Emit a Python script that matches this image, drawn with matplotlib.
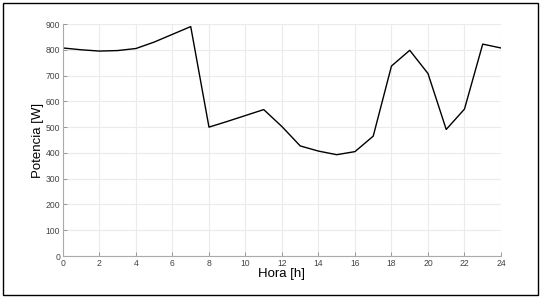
import numpy as np
import matplotlib.pyplot as plt
from matplotlib.patches import Rectangle

plt.rcParams['font.family'] = ['Liberation Sans', 'DejaVu Sans']

hora = list(range(25))
potencia = [807, 800, 795, 797, 805, 830, 860, 890, 500, 522, 545, 568,
            502, 427, 407, 393, 405, 465, 737, 798, 708, 491, 570, 822, 807]
xticks = list(range(0, 25, 2))
yticks = list(range(0, 901, 100))

fig = plt.figure(figsize=(5.42, 2.99), dpi=100)
ax = fig.add_axes([0.1162, 0.1438, 0.8081, 0.7759])

ax.plot(hora, potencia, color="black", linewidth=1.0)

ax.set_xlim(0, 24)
ax.set_ylim(0, 900)
ax.set_xticks(xticks)
ax.set_yticks(yticks)
ax.grid(True, color="#ebebeb", linewidth=0.8)
ax.set_axisbelow(True)

for s in ["top", "right"]:
    ax.spines[s].set_visible(False)
for s in ["left", "bottom"]:
    ax.spines[s].set_color("#aaaaaa")
    ax.spines[s].set_linewidth(0.8)

ax.tick_params(direction="in", length=3, width=0.6, color="#888888",
               labelsize=6.2, labelcolor="#444444", pad=2)

ax.set_xlabel("Hora [h]", fontsize=9.5, va="center")
ax.set_ylabel("Potencia [W]", fontsize=9.5, va="center")
ax.xaxis.set_label_coords(0.5, -0.077)
ax.yaxis.set_label_coords(-0.056, 0.5)

# marco exterior
fig.patches.append(Rectangle((0.0055, 0.0134), 0.987, 0.9766, transform=fig.transFigure,
                             fill=False, edgecolor="black", linewidth=1.0))

fig.savefig("out.png", dpi=100)
